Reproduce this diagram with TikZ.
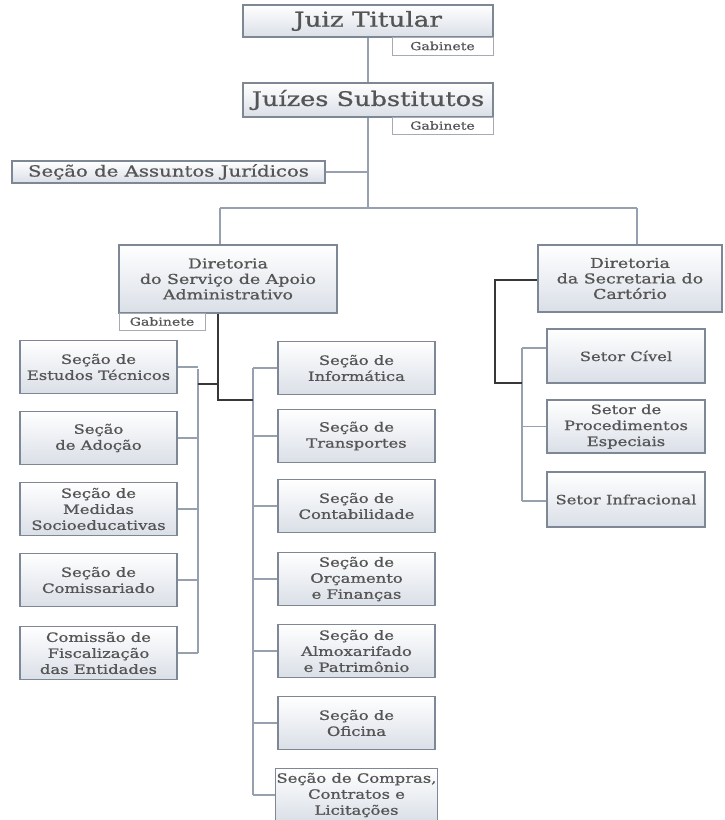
\documentclass[tikz,border=0pt]{standalone}
\usepackage{fontspec}
\setmainfont[FakeStretch=1.28,FakeBold=0.9]{DejaVu Serif}
\usetikzlibrary{calc}
\definecolor{boxedge}{RGB}{125,135,150}
\definecolor{boxbot}{RGB}{218,223,231}
\definecolor{txt}{RGB}{85,85,85}
\definecolor{thinline}{RGB}{150,160,174}
\definecolor{thickline}{RGB}{55,55,55}
\tikzset{
  orgbox/.style={draw=boxedge, line width=1.3pt, top color=white, bottom color=boxbot,
    text=txt, align=center, inner sep=1pt, anchor=center},
  gabbox/.style={draw=boxedge!70, line width=0.7pt, fill=white, text=txt,
    font=\fontsize{11}{12}\selectfont, inner sep=0pt, anchor=center},
  smallbox/.style={orgbox, minimum width=157pt, minimum height=53pt,
    font=\fontsize{12.8}{16}\selectfont},
  thin/.style={draw=thinline, line width=1.6pt},
  thick/.style={draw=thickline, line width=2.2pt},
}
\begin{document}
\begin{tikzpicture}[x=1pt,y=-1pt]
\useasboundingbox (0,0) rectangle (725,820);
% top
\node[orgbox, minimum width=250pt, minimum height=32pt, font=\fontsize{20.5}{22}\selectfont] (jt) at (368,21) {Juiz Titular};
\node[gabbox, minimum width=101pt, minimum height=18pt] (gjt) at (442.5,46) {Gabinete};
\node[orgbox, minimum width=250pt, minimum height=34pt, font=\fontsize{20}{22}\selectfont] (js) at (368,100) {Juízes Substitutos};
\node[gabbox, minimum width=101pt, minimum height=17pt] (gjs) at (442.5,125.5) {Gabinete};
\node[orgbox, minimum width=313pt, minimum height=22pt, font=\fontsize{15.4}{17}\selectfont] (saj) at (168.5,172) {Seção de Assuntos Jurídicos};
% directorates
\node[orgbox, minimum width=218pt, minimum height=68pt, font=\fontsize{13.6}{15.5}\selectfont] (dsa) at (228,279) {Diretoria\\do Serviço de Apoio\\Administrativo};
\node[gabbox, minimum width=86pt, minimum height=17pt] (gdsa) at (162,321.5) {Gabinete};
\node[orgbox, minimum width=184pt, minimum height=67pt, font=\fontsize{13.6}{15.5}\selectfont] (dsc) at (630,278.5) {Diretoria\\da Secretaria do\\Cartório};
% left column
\node[smallbox] (l1) at (98.5,367) {Seção de\\Estudos Técnicos};
\node[smallbox] (l2) at (98.5,438) {Seção\\de Adoção};
\node[smallbox] (l3) at (98.5,509) {Seção de\\Medidas\\Socioeducativas};
\node[smallbox] (l4) at (98.5,580) {Seção de\\Comissariado};
\node[smallbox] (l5) at (98.5,653) {Comissão de\\Fiscalização\\das Entidades};
% right column
\node[smallbox] (r1) at (356.5,368) {Seção de\\Informática};
\node[smallbox] (r2) at (356.5,436) {Seção de\\Transportes};
\node[smallbox] (r3) at (356.5,506) {Seção de\\Contabilidade};
\node[smallbox] (r4) at (356.5,579) {Seção de\\Orçamento\\e Finanças};
\node[smallbox] (r5) at (356.5,651) {Seção de\\Almoxarifado\\e Patrimônio};
\node[smallbox] (r6) at (356.5,723) {Seção de\\Oficina};
\node[smallbox] (r7) at (356.5,795) {Seção de Compras,\\Contratos e\\Licitações};
% setores
\node[smallbox, minimum width=158pt, minimum height=54pt] (s1) at (626,356) {Setor Cível};
\node[smallbox, minimum width=158pt, minimum height=53pt] (s2) at (626,426.5) {Setor de\\Procedimentos\\Especiais};
\node[smallbox, minimum width=158pt, minimum height=55pt] (s3) at (626,499.5) {Setor Infracional};
% coordinates
\coordinate (hub) at (368,208);
\coordinate (hl) at (220,208);
\coordinate (hr) at (637,208);
\coordinate (tk) at (218,400);
\coordinate (lb) at (198,384);
\coordinate (lv) at (198,369);
\coordinate (lvb) at (198,653);
\coordinate (rv) at (253,368);
\coordinate (rvb) at (253,795);
\coordinate (sk) at (495,280);
\coordinate (sv) at (522,348);
\coordinate (svb) at (522,501);
% connectors upper
\draw[thin] (jt.south) -- (js.north);
\draw[thin] (js.south) -- (hub);
\draw[thin] (saj.east) -- (saj.east -| hub);
\draw[thin] (hl) -- (hr);
\draw[thin] (hl) -- (hl |- dsa.north);
\draw[thin] (hr) -- (hr |- dsc.north);
% left/right columns of DSA
\draw[thin] (lv) -- (lvb);
\foreach \n in {l1,l2,l3,l4,l5} \draw[thin] (\n.east) -- (\n.east -| lv);
\draw[thin] (rv) -- (rvb);
\foreach \n in {r1,r2,r3,r4,r5,r6,r7} \draw[thin] (\n.west) -- (\n.west -| rv);
\draw[thick] (tk |- dsa.south) -- (tk) -- (tk -| rv);
\draw[thick] (lb -| tk) -- (lb);
% setores
\draw[thin] (sv) -- (svb);
\draw[thin] (sv) -- (sv -| s1.west);
\draw[thin] (s2.west) -- (s2.west -| sv);
\draw[thin] (svb) -- (svb -| s3.west);
\draw[thick] (dsc.west |- sk) -- (sk) -- (sk |- 0,383) -- (522,383);
\end{tikzpicture}
\end{document}
